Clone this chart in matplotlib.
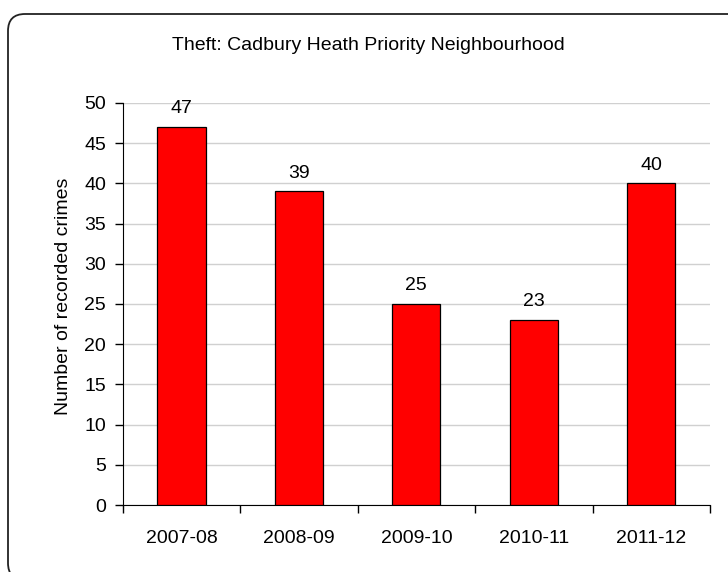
import matplotlib
matplotlib.use("Agg")
import matplotlib.pyplot as plt
from matplotlib.patches import FancyBboxPatch
from matplotlib.transforms import IdentityTransform
import numpy as np

years = ["2007-08", "2008-09", "2009-10", "2010-11", "2011-12"]
crimes = [47, 39, 25, 23, 40]
y_ticks = list(range(0, 51, 5))

plt.rcParams["font.family"] = ["Liberation Sans", "DejaVu Sans"]

fig = plt.figure(figsize=(7.28, 5.72), dpi=100)
fig.patch.set_facecolor("white")

# rounded frame, running off the right and bottom edges as in the original
frame = FancyBboxPatch(
    (8, -8), 760, 566,
    boxstyle="round,pad=0,rounding_size=17",
    transform=IdentityTransform(), facecolor="none", edgecolor="#222222",
    linewidth=1.3,
)
fig.patches.append(frame)

ax = fig.add_axes([122.7 / 728, 67 / 572, 587.3 / 728, 402 / 572])
x = np.arange(len(years)) + 0.5
bars = ax.bar(x, crimes, width=0.41, color="#ff0000", edgecolor="black", linewidth=0.9, zorder=3)

for bar, value in zip(bars, crimes):
    ax.text(bar.get_x() + bar.get_width() / 2, value + 1.2, str(value),
            ha="center", va="bottom", fontsize=14)

ax.set_xlim(0, len(years))
ax.set_ylim(0, 50)
ax.set_yticks(y_ticks)
ax.set_yticklabels([str(t) for t in y_ticks], fontsize=14)
ax.set_xticks(np.arange(len(years) + 1))
ax.set_xticklabels([])
ax.set_xticks(x, minor=True)
ax.set_xticklabels(years, minor=True, fontsize=14)
ax.tick_params(axis="x", which="minor", length=0, pad=18)
ax.tick_params(axis="x", which="major", length=6, direction="out", width=1)
ax.tick_params(axis="y", length=6, direction="out", width=1, pad=6)

ax.yaxis.grid(True, color="#d0d0d0", linewidth=1, zorder=0)
ax.set_axisbelow(True)
for side in ["top", "right"]:
    ax.spines[side].set_visible(False)
ax.spines["left"].set_color("black")
ax.spines["bottom"].set_color("black")

ax.set_ylabel("Number of recorded crimes", fontsize=14)
ax.yaxis.set_label_coords(-0.086, 0.52)
fig.text(368 / 728, 1 - 46 / 572, "Theft: Cadbury Heath Priority Neighbourhood",
         ha="center", va="center", fontsize=14)

fig.savefig("out.png", dpi=100)
